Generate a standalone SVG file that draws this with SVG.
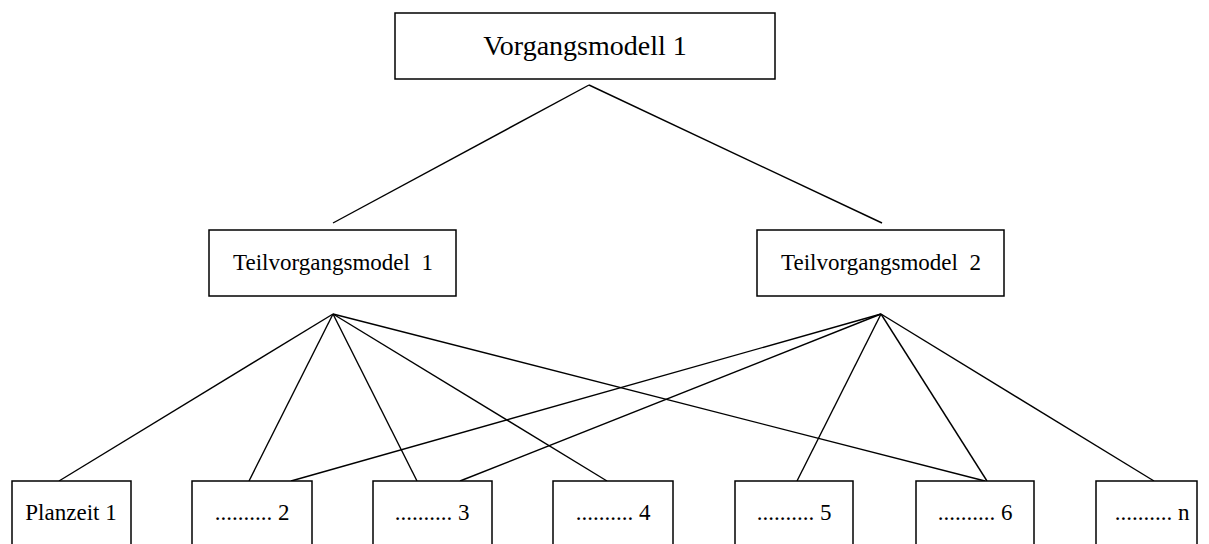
<svg xmlns="http://www.w3.org/2000/svg" width="1209" height="544" viewBox="0 0 1209 544">
  <style>
    .box { fill: #ffffff; stroke: #000000; stroke-width: 1.5; }
    .edge { stroke: #000000; stroke-width: 1.4; fill: none; }
    text { font-family: "Liberation Serif", "Times New Roman", "DejaVu Serif", serif; fill: #000000; text-anchor: middle; white-space: pre; }
    .t1 { font-size: 28px; }
    .t2 { font-size: 23px; }
  </style>
  <rect width="1209" height="544" fill="#ffffff"/>

  <!-- connectors -->
  <g id="connectors">
    <line class="edge" x1="589" y1="85" x2="333" y2="223"/>
    <line class="edge" x1="589" y1="85" x2="882" y2="223"/>

    <line class="edge" x1="333" y1="314" x2="59" y2="481"/>
    <line class="edge" x1="333" y1="314" x2="249" y2="481"/>
    <line class="edge" x1="333" y1="314" x2="417" y2="481"/>
    <line class="edge" x1="333" y1="314" x2="607" y2="481"/>
    <line class="edge" x1="333" y1="314" x2="985" y2="481"/>

    <line class="edge" x1="881" y1="314" x2="291" y2="481"/>
    <line class="edge" x1="881" y1="314" x2="460" y2="481"/>
    <line class="edge" x1="881" y1="314" x2="797" y2="481"/>
    <line class="edge" x1="881" y1="314" x2="987" y2="481"/>
    <line class="edge" x1="881" y1="314" x2="1154" y2="481"/>
  </g>

  <g id="vorgangsmodell">
    <rect class="box" x="395" y="13" width="380" height="66"/>
    <text class="t1" x="585" y="55">Vorgangsmodell 1</text>
  </g>

  <g id="teil1">
    <rect class="box" x="209" y="230" width="247" height="66"/>
    <text class="t2" x="333" y="270">Teilvorgangsmodel  1</text>
  </g>
  <g id="teil2">
    <rect class="box" x="757" y="230" width="247" height="66"/>
    <text class="t2" x="881" y="270">Teilvorgangsmodel  2</text>
  </g>

  <g id="plan1">
    <rect class="box" x="12" y="481" width="119" height="80"/>
    <text class="t2" x="71" y="520">Planzeit 1</text>
  </g>
  <g id="plan2">
    <rect class="box" x="192" y="481" width="120" height="80"/>
    <text class="t2" x="252" y="520">.......... 2</text>
  </g>
  <g id="plan3">
    <rect class="box" x="373" y="481" width="119" height="80"/>
    <text class="t2" x="432" y="520">.......... 3</text>
  </g>
  <g id="plan4">
    <rect class="box" x="553" y="481" width="120" height="80"/>
    <text class="t2" x="613" y="520">.......... 4</text>
  </g>
  <g id="plan5">
    <rect class="box" x="735" y="481" width="118" height="80"/>
    <text class="t2" x="794" y="520">.......... 5</text>
  </g>
  <g id="plan6">
    <rect class="box" x="916" y="481" width="118" height="80"/>
    <text class="t2" x="975" y="520">.......... 6</text>
  </g>
  <g id="plann">
    <rect class="box" x="1096" y="481" width="101" height="80"/>
    <text class="t2" x="1152" y="520">.......... n</text>
  </g>
</svg>
